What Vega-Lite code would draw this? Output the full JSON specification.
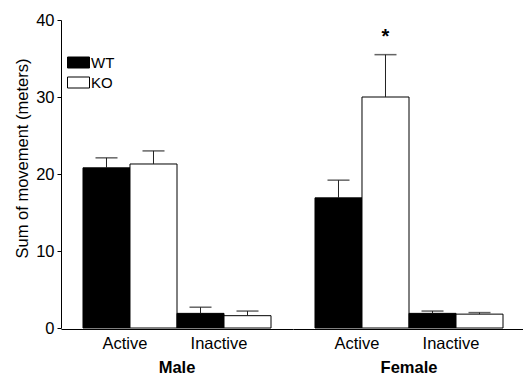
{
  "$schema": "https://vega.github.io/schema/vega-lite/v6.json",
  "padding": {"left": 14, "top": 12, "right": 0, "bottom": 0},
  "config": {"view": {"stroke": null}, "font": "Liberation Sans"},
  "data": {"values": [
    {"sex": "Male", "condition": "Active", "genotype": "WT", "mean": 20.8, "upper": 22.1, "sig": ""},
    {"sex": "Male", "condition": "Active", "genotype": "KO", "mean": 21.3, "upper": 23.0, "sig": ""},
    {"sex": "Male", "condition": "Inactive", "genotype": "WT", "mean": 1.9, "upper": 2.7, "sig": ""},
    {"sex": "Male", "condition": "Inactive", "genotype": "KO", "mean": 1.6, "upper": 2.2, "sig": ""},
    {"sex": "Female", "condition": "Active", "genotype": "WT", "mean": 16.9, "upper": 19.2, "sig": ""},
    {"sex": "Female", "condition": "Active", "genotype": "KO", "mean": 30.0, "upper": 35.5, "sig": "*"},
    {"sex": "Female", "condition": "Inactive", "genotype": "WT", "mean": 1.9, "upper": 2.2, "sig": ""},
    {"sex": "Female", "condition": "Inactive", "genotype": "KO", "mean": 1.8, "upper": 2.0, "sig": ""}
  ]},
  "spacing": 0,
  "facet": {"column": {"field": "sex", "type": "nominal", "sort": ["Male", "Female"],
    "header": {"title": null, "labelOrient": "bottom", "labelFontWeight": "bold", "labelFontSize": 16.5, "labelPadding": 8, "labelColor": "black", "labelFont": "Liberation Sans"}}},
  "spec": {
    "width": 232,
    "height": 308,
    "encoding": {
      "x": {"field": "condition", "type": "nominal", "sort": ["Active", "Inactive"],
        "scale": {"paddingInner": 0, "paddingOuter": 0.234},
        "axis": {"title": null, "ticks": false, "labelAngle": 0, "labelFontSize": 16.5, "labelPadding": 6, "labelOffset": -5, "domainColor": "black", "labelColor": "black"}},
      "xOffset": {"field": "genotype", "type": "nominal", "sort": ["WT", "KO"], "scale": {"paddingInner": 0, "paddingOuter": 0}}
    },
    "layer": [
      {
        "mark": {"type": "bar", "stroke": "black", "strokeWidth": 1},
        "encoding": {
          "y": {"field": "mean", "type": "quantitative", "scale": {"domain": [0, 40], "nice": false},
            "axis": {"title": "Sum of movement (meters)", "values": [0, 10, 20, 30, 40], "grid": false, "tickSize": 4, "tickColor": "black", "domainColor": "black", "labelColor": "black", "labelFontSize": 16.5, "titleFontSize": 16.5, "titleFontWeight": "normal", "titleColor": "black", "titlePadding": 5, "labelPadding": 3, "titleY": 138}},
          "fill": {"field": "genotype", "type": "nominal", "scale": {"domain": ["WT", "KO"], "range": ["black", "white"]},
            "legend": {"orient": "none", "legendX": 6, "legendY": 31, "title": null, "symbolType": "M-1,-0.5H1V0.5H-1Z", "symbolSize": 484, "symbolStrokeColor": "black", "symbolStrokeWidth": 1, "labelFontSize": 15, "labelOffset": 1, "rowPadding": -7, "padding": 0, "labelColor": "black"}}
        }
      },
      {
        "mark": {"type": "rule", "color": "#222", "strokeWidth": 1},
        "encoding": {
          "y": {"field": "mean", "type": "quantitative"},
          "y2": {"field": "upper"}
        }
      },
      {
        "mark": {"type": "tick", "color": "#222", "size": 22, "thickness": 1.5},
        "encoding": {
          "y": {"field": "upper", "type": "quantitative"}
        }
      },
      {
        "mark": {"type": "text", "fontSize": 20, "fontWeight": "bold", "color": "black", "baseline": "middle", "dy": -18},
        "encoding": {
          "y": {"field": "upper", "type": "quantitative"},
          "text": {"field": "sig"}
        }
      }
    ]
  }
}
